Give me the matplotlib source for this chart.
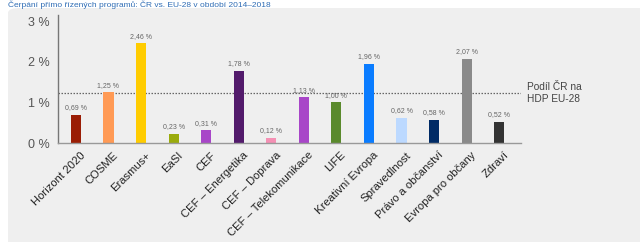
import matplotlib.pyplot as plt
import matplotlib.transforms as mtransforms
from matplotlib.patches import FancyBboxPatch

# ---------------- DATA ---------------- #
programs = ["Horizont 2020", "COSME", "Erasmus+", "EaSI", "CEF",
            "CEF – Energetika", "CEF – Doprava", "CEF – Telekomunikace",
            "LIFE", "Kreativní Evropa", "Spravedlnost", "Právo a občanství",
            "Evropa pro občany", "Zdraví"]
shares = [0.69, 1.25, 2.46, 0.23, 0.31, 1.78, 0.12, 1.13,
          1.00, 1.96, 0.62, 0.58, 2.07, 0.52]
bar_colors = ["#9a1d05", "#ff9a55", "#ffcc00", "#9aab0c", "#a846c8",
              "#521a6b", "#f590b4", "#a846c8", "#5a8a2c", "#0a7cff",
              "#bcd9ff", "#002b66", "#8a8a8a", "#333333"]
gdp_share = 1.24
yticks = [0, 1, 2, 3]

plt.rcParams["font.family"] = ["Liberation Sans", "DejaVu Sans"]

fig = plt.figure(figsize=(6.4, 2.42), dpi=100)
fig.patch.set_facecolor("white")

# gray panel behind the chart
panel = FancyBboxPatch((8 / 640, -0.1), 1.1, 1 - 8 / 242 + 0.1,
                       boxstyle="round,pad=0,rounding_size=0.02",
                       transform=fig.transFigure, facecolor="#efefef",
                       edgecolor="none", zorder=-5)
fig.patches.append(panel)

# heading at the very top (cropped in the source)
fig.text(8 / 640, 0.998, "Čerpání přímo řízených programů: ČR vs. EU-28 v období 2014–2018",
         color="#2f6db5", fontsize=6, ha="left", va="top")

ax = fig.add_axes([58 / 640, 1 - 143 / 242, 463 / 640, 128 / 242])
ax.set_facecolor("none")
ax.set_zorder(2)

x = range(len(programs))
ax.bar(x, shares, width=0.31, color=bar_colors, zorder=2)

for i, v in enumerate(shares):
    ax.text(i, v + 0.09, f"{v:.2f} %".replace(".", ","), ha="center", va="bottom",
            fontsize=5, color="#666666")

ax.axhline(gdp_share, color="#666666", linestyle=(0, (1.2, 1.2)), linewidth=0.9, zorder=1)
ax.text(1.012, gdp_share, "Podíl ČR na\nHDP EU-28", transform=ax.get_yaxis_transform(),
        ha="left", va="center", fontsize=7.3, color="#444444", linespacing=1.25)

ax.set_xlim(-0.55, 13.67)
ax.set_ylim(0, 3.16)
ax.set_yticks(yticks)
ax.set_yticklabels([f"{t} %" for t in yticks], fontsize=9, color="#555555")
ax.set_xticks(list(x))
ax.set_xticklabels(programs, rotation=45, ha="right", rotation_mode="anchor",
                   fontsize=8.1, color="#222222")
ax.tick_params(axis="both", length=0)
ax.tick_params(axis="y", pad=6)
ax.tick_params(axis="x", pad=5)

shift = mtransforms.ScaledTranslation(4 / 100, 0, fig.dpi_scale_trans)
for lab in ax.get_xticklabels():
    lab.set_transform(lab.get_transform() + shift)

for side in ["top", "right"]:
    ax.spines[side].set_visible(False)
ax.spines["left"].set_color("#777777")
ax.spines["bottom"].set_color("#999999")
ax.spines["left"].set_linewidth(1)
ax.spines["bottom"].set_linewidth(1)

fig.savefig("out.png", dpi=100)
